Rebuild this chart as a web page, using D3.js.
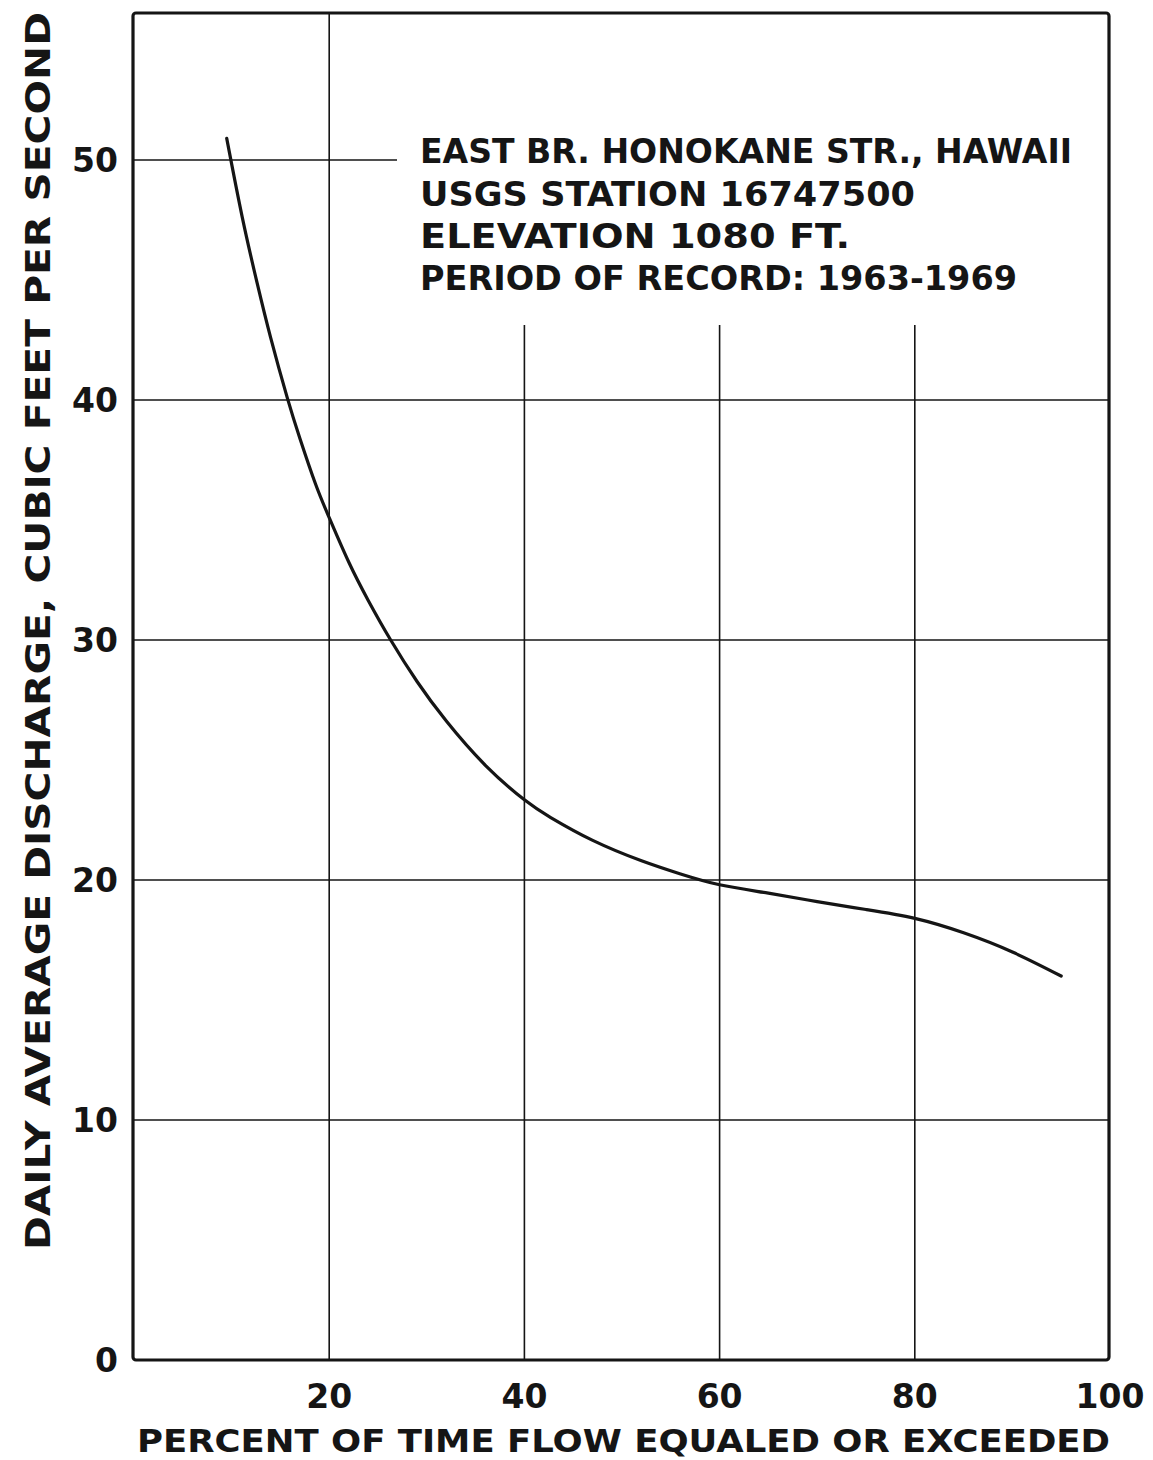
<!DOCTYPE html>
<html>
<head>
<meta charset="utf-8">
<script src="https://cdn.jsdelivr.net/npm/d3@7"></script>
<style>
  html, body { margin: 0; padding: 0; background: #fff; }
  svg { display: block; }
  text { font-family: "DejaVu Sans", sans-serif; font-weight: bold; fill: #151515; }
</style>
</head>
<body>
<script>
// ---- data ----
const percentExceeded = [9.5, 11.1, 12.6, 14, 15.7, 17, 18.6, 20, 22, 24, 26.3, 29, 32, 36, 40, 42.7, 47, 52, 56, 60, 65, 70, 75, 80, 85, 90, 95];
const dischargeCfs    = [50.9, 47.6, 44.9, 42.6, 40.1, 38.4, 36.5, 35.1, 33.25, 31.65, 30.0, 28.27, 26.62, 24.78, 23.34, 22.6, 21.65, 20.8, 20.25, 19.8, 19.45, 19.1, 18.77, 18.4, 17.8, 17.0, 16.0];
const xTicks = [20, 40, 60, 80, 100];
const yTicks = [0, 10, 20, 30, 40, 50];
const xTickLabels = ["20", "40", "60", "80", "100"];
const yTickLabels = ["0", "10", "20", "30", "40", "50"];
const noteLines = [
  "EAST  BR. HONOKANE  STR., HAWAII",
  "USGS  STATION  16747500",
  "ELEVATION  1080  FT.",
  "PERIOD  OF  RECORD: 1963-1969"
];
const xTitle = "PERCENT  OF  TIME  FLOW  EQUALED  OR  EXCEEDED";
const yTitle = "DAILY  AVERAGE  DISCHARGE,  CUBIC  FEET  PER  SECOND";

// ---- layout ----
const W = 1153, H = 1460;
const svg = d3.select("body").append("svg").attr("width", W).attr("height", H);

const x = d3.scaleLinear().domain([0, 100]).range([134, 1110]);
const y = d3.scaleLinear().domain([0, 50]).range([1360, 160]);
const yTopVal = y.invert(13);

const ink = "#151515";

// grid lines
const g = svg.append("g").attr("stroke", ink).attr("stroke-width", 1.6).attr("fill", "none");
yTicks.filter(v => v > 0 && v < 50).forEach(v => {
  g.append("line").attr("x1", x(0)).attr("x2", x(100)).attr("y1", y(v)).attr("y2", y(v));
});
g.append("line").attr("x1", x(0)).attr("x2", 397).attr("y1", y(50)).attr("y2", y(50));
xTicks.filter(v => v < 100).forEach(v => {
  const top = v === 20 ? y(yTopVal) : 325;
  g.append("line").attr("x1", x(v)).attr("x2", x(v)).attr("y1", top).attr("y2", y(0));
});

// frame
svg.append("rect")
  .attr("x", x(0) - 1).attr("y", y(yTopVal))
  .attr("width", x(100) - x(0)).attr("height", y(0) - y(yTopVal))
  .attr("rx", 3)
  .attr("fill", "none").attr("stroke", ink).attr("stroke-width", 3.2);

// curve
const pts = percentExceeded.map((p, i) => [p, dischargeCfs[i]]);
svg.append("path")
  .datum(pts)
  .attr("fill", "none").attr("stroke", ink).attr("stroke-width", 3.2)
  .attr("stroke-linecap", "round")
  .attr("d", d3.line().x(d => x(d[0])).y(d => y(d[1])).curve(d3.curveNatural));

// y tick labels
svg.append("g").selectAll("text").data(yTicks).join("text")
  .attr("x", x(0) - 16).attr("y", d => y(d) + 12)
  .attr("text-anchor", "end")
  .attr("font-size", 33)
  .text((d, i) => yTickLabels[i]);

// x tick labels
svg.append("g").selectAll("text").data(xTicks).join("text")
  .attr("x", d => x(d)).attr("y", y(0) + 48)
  .attr("text-anchor", "middle")
  .attr("font-size", 33)
  .text((d, i) => xTickLabels[i]);

// axis titles
svg.append("text")
  .attr("x", 137).attr("y", 1452)
  .attr("font-size", 32)
  .attr("textLength", 973).attr("lengthAdjust", "spacingAndGlyphs")
  .text(xTitle);

svg.append("text")
  .attr("transform", "translate(50,1250) rotate(-90)")
  .attr("font-size", 33)
  .attr("textLength", 1238).attr("lengthAdjust", "spacingAndGlyphs")
  .text(yTitle);

// note block
const noteWidths = [652, 495, 430, 597];
const noteBase = [163, 206, 248, 290];
svg.append("g").selectAll("text").data(noteLines).join("text")
  .attr("x", 420).attr("y", (d, i) => noteBase[i])
  .attr("font-size", 33)
  .attr("textLength", (d, i) => noteWidths[i]).attr("lengthAdjust", "spacingAndGlyphs")
  .text(d => d);
</script>
</body>
</html>
